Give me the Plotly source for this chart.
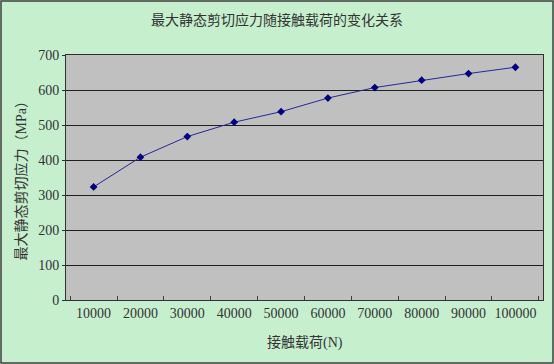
import plotly.graph_objects as go

loads = ["10000", "20000", "30000", "40000", "50000", "60000", "70000", "80000", "90000", "100000"]
stress = [323, 408, 467, 508, 538, 577, 607, 628, 647, 665]
y_ticks = [0, 100, 200, 300, 400, 500, 600, 700]

title_text = "最大静态剪切应力随接触载荷的变化关系"
x_title = "接触载荷(N)"
y_title = "最大静态剪切应力（MPa）"

FONT = "Liberation Serif, DejaVu Serif, Noto Sans CJK SC, serif"
TXT = "#333333"

W, H = 554, 364
L, R, T, B = 66, 11, 55, 64

fig = go.Figure()
fig.add_trace(go.Scatter(
    x=loads, y=stress, mode="lines+markers",
    line=dict(color="#26269a", width=1),
    marker=dict(symbol="diamond", size=6, color="#000080"),
    showlegend=False,
))

pw = W - L - R
ph = H - T - B
fig.update_layout(
    width=W, height=H,
    margin=dict(l=L, r=R, t=T, b=B, autoexpand=False),
    paper_bgcolor="#C6EFCE",
    plot_bgcolor="#C0C0C0",
    font=dict(family=FONT, size=14, color=TXT),
    xaxis=dict(
        type="category", tickson="boundaries", ticks="inside", ticklen=4,
        tickcolor="#404040", showgrid=False, showline=True, linecolor="#303030",
        linewidth=1, mirror=True, automargin=False, tickangle=0,
        tickfont=dict(family=FONT, size=14, color=TXT),
    ),
    yaxis=dict(
        range=[0, 700], tickvals=y_ticks, ticks="outside", ticklen=3,
        tickcolor="#303030", showgrid=True, gridcolor="#202020", gridwidth=1,
        showline=True, linecolor="#303030", linewidth=1, mirror=True, zeroline=False,
        automargin=False,
        tickfont=dict(family=FONT, size=14, color=TXT),
    ),
)

fig.add_annotation(text=title_text, xref="paper", yref="paper", x=(277 - L) / pw,
                   y=1 + (T - 20) / ph, xanchor="center", yanchor="middle", showarrow=False,
                   font=dict(family=FONT, size=14, color=TXT))
fig.add_annotation(text=x_title, xref="paper", yref="paper", x=0.5,
                   y=-(342 - T - ph) / ph, xanchor="center", yanchor="middle", showarrow=False,
                   font=dict(family=FONT, size=14, color=TXT))
fig.add_annotation(text=y_title, xref="paper", yref="paper", x=-(L - 20) / pw,
                   y=0.5, xanchor="center", yanchor="middle", showarrow=False, textangle=-90,
                   font=dict(family=FONT, size=14, color=TXT))

fig.add_shape(type="rect", xref="paper", yref="paper",
              x0=-(L - 1) / pw, x1=1 + (R - 1) / pw,
              y0=-(B - 1) / ph, y1=1 + (T - 1) / ph,
              line=dict(color="#404040", width=1.5), layer="above")

fig.write_html("out.html", config={"displayModeBar": False})

with open("out.html", "r", encoding="utf-8") as f:
    html = f.read()
html = html.replace("<head>", "<head><style>html,body{margin:0;padding:0;overflow:hidden;}</style>", 1)
with open("out.html", "w", encoding="utf-8") as f:
    f.write(html)
